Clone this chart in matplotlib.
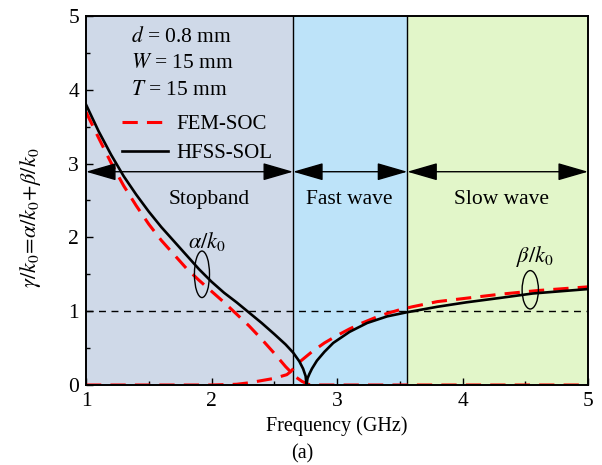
import matplotlib
matplotlib.use("Agg")
import matplotlib.pyplot as plt
from matplotlib.patches import Ellipse

plt.rcParams['font.family'] = ['Liberation Serif', 'DejaVu Serif']
plt.rcParams['mathtext.fontset'] = 'stix'

# ---------------- data ----------------
# HFSS-SOL (black, solid)
hfss_alpha_f = [1.0, 1.1, 1.2, 1.3, 1.4, 1.5, 1.6, 1.7, 1.8, 1.9, 2.0, 2.1, 2.2, 2.3, 2.4, 2.5, 2.59, 2.65, 2.70, 2.73, 2.75, 2.757]
hfss_alpha_v = [3.80, 3.44, 3.12, 2.83, 2.58, 2.35, 2.14, 1.95, 1.76, 1.57, 1.40, 1.25, 1.12, 0.98, 0.84, 0.69, 0.55, 0.44, 0.32, 0.22, 0.12, 0.0]
hfss_beta_f = [2.757, 2.765, 2.78, 2.80, 2.84, 2.90, 2.97, 3.10, 3.24, 3.40, 3.555, 3.80, 4.03, 4.30, 4.56, 5.0]
hfss_beta_v = [0.0, 0.09, 0.15, 0.22, 0.33, 0.45, 0.57, 0.72, 0.84, 0.93, 0.985, 1.06, 1.12, 1.18, 1.24, 1.30]

# FEM-SOC (red, dashed)
fem_alpha_f = [1.0, 1.1, 1.2, 1.3, 1.4, 1.5, 1.6, 1.7, 1.8, 1.9, 2.0, 2.1, 2.2, 2.3, 2.4, 2.5, 2.59, 2.67, 2.72, 2.77, 2.80, 3.2, 3.6, 4.0, 4.5, 5.0]
fem_alpha_v = [3.70, 3.35, 3.01, 2.70, 2.43, 2.18, 1.96, 1.77, 1.58, 1.42, 1.27, 1.12, 0.96, 0.80, 0.62, 0.43, 0.25, 0.11, 0.05, 0.01, 0.0, 0.0, 0.0, 0.0, 0.0, 0.0]
fem_beta_f = [1.0, 1.5, 2.0, 2.2, 2.3, 2.4, 2.5, 2.6, 2.63, 2.7, 2.8, 2.9, 3.0, 3.1, 3.2, 3.3, 3.4, 3.5, 3.6, 3.8, 4.0, 4.3, 4.6, 5.0]
fem_beta_v = [0.0, 0.0, 0.0, 0.01, 0.03, 0.06, 0.09, 0.14, 0.18, 0.31, 0.45, 0.57, 0.67, 0.76, 0.84, 0.91, 0.97, 1.02, 1.06, 1.13, 1.17, 1.23, 1.28, 1.33]

# regions
band_edges = [1.0, 2.65, 3.56, 5.0]
band_names = ['Stopband', 'Fast wave', 'Slow wave']
band_colors = ['#CFD9E8', '#BDE3F9', '#E2F6C9']

params = [r'$d$ = 0.8 mm', r'$W$ = 15 mm', r'$T$ = 15 mm']

# ---------------- figure ----------------
fig = plt.figure(figsize=(6.02, 4.65), dpi=100)
ax = fig.add_axes([86/602, 1-385/465, (588-86)/602, (385-16)/465])

ax.set_xlim(1, 5)
ax.set_ylim(0, 5)

for i in range(3):
    ax.axvspan(band_edges[i], band_edges[i+1], color=band_colors[i], lw=0, zorder=0)
for e in band_edges[1:3]:
    ax.axvline(e, color='black', lw=1.0, zorder=1)

ax.axhline(1.0, color='black', lw=1.0, ls=(0, (5, 4)), zorder=2)

dash = (0, (5, 3))
ax.plot(fem_alpha_f, fem_alpha_v, color='#FF0000', lw=2.2, ls=dash, zorder=3, label='FEM-SOC')
ax.plot(fem_beta_f, fem_beta_v, color='#FF0000', lw=2.2, ls=dash, zorder=3)
ax.plot(hfss_alpha_f, hfss_alpha_v, color='black', lw=1.9, zorder=4, label='HFSS-SOL')
ax.plot(hfss_beta_f, hfss_beta_v, color='black', lw=1.9, zorder=4)

# arrows
arrow_y = 2.89
label_x = [1.98, 3.10, 4.31]
for i in range(3):
    ax.annotate('', xy=(band_edges[i], arrow_y), xytext=(band_edges[i+1], arrow_y),
                arrowprops=dict(arrowstyle='<|-|>,head_length=1.9,head_width=0.55',
                                mutation_scale=10, color='black', lw=1.0,
                                shrinkA=0, shrinkB=0), zorder=5)
    ax.text(label_x[i], 2.51, band_names[i],
            ha='center', va='center', fontsize=15.5, zorder=6)

# ellipses & labels
ax.add_patch(Ellipse((1.924, 1.50), 0.12, 0.63, fill=False, ec='black', lw=1.0, zorder=6))
ax.add_patch(Ellipse((4.54, 1.29), 0.13, 0.52, fill=False, ec='black', lw=1.0, zorder=6))
ax.text(1.96, 1.95, r'$\alpha/k_0$', ha='center', va='center', fontsize=16, zorder=6)
ax.text(4.575, 1.74, r'$\beta/k_0$', ha='center', va='center', fontsize=16, zorder=6)

# parameter text
for s, yy in zip(params, [4.71, 4.35, 3.99]):
    ax.text(1.36, yy, s, ha='left', va='center', fontsize=15.5, zorder=6)

leg = ax.legend(loc='upper left', bbox_to_anchor=(0.072, 0.732), frameon=False,
                fontsize=15, handlelength=2.2, handletextpad=0.4, labelspacing=0.42,
                borderpad=0, borderaxespad=0)

# axes styling
ax.set_xticks([1, 2, 3, 4, 5])
ax.set_yticks([0, 1, 2, 3, 4, 5])
ax.set_xticks([1.5, 2.5, 3.5, 4.5], minor=True)
ax.set_yticks([0.5, 1.5, 2.5, 3.5, 4.5], minor=True)
ax.tick_params(which='both', direction='in', top=False, right=False, labelsize=15.5)
ax.tick_params(which='major', length=5, width=1.0, pad=5)
ax.tick_params(which='minor', length=3, width=1.0)
for sp in ax.spines.values():
    sp.set_linewidth(1.4)
    sp.set_zorder(7)

ax.set_xlabel('Frequency (GHz)', fontsize=14.5, labelpad=4)
ax.set_ylabel(r'$\gamma/k_0\!=\!\alpha/k_0\!+\!\beta/k_0$', fontsize=16)
ax.yaxis.set_label_coords(-0.086, 0.453)

fig.text(302/602, 1-454/465, '(a)', ha='center', va='center', fontsize=14.5)

fig.savefig('out.png', dpi=100)
